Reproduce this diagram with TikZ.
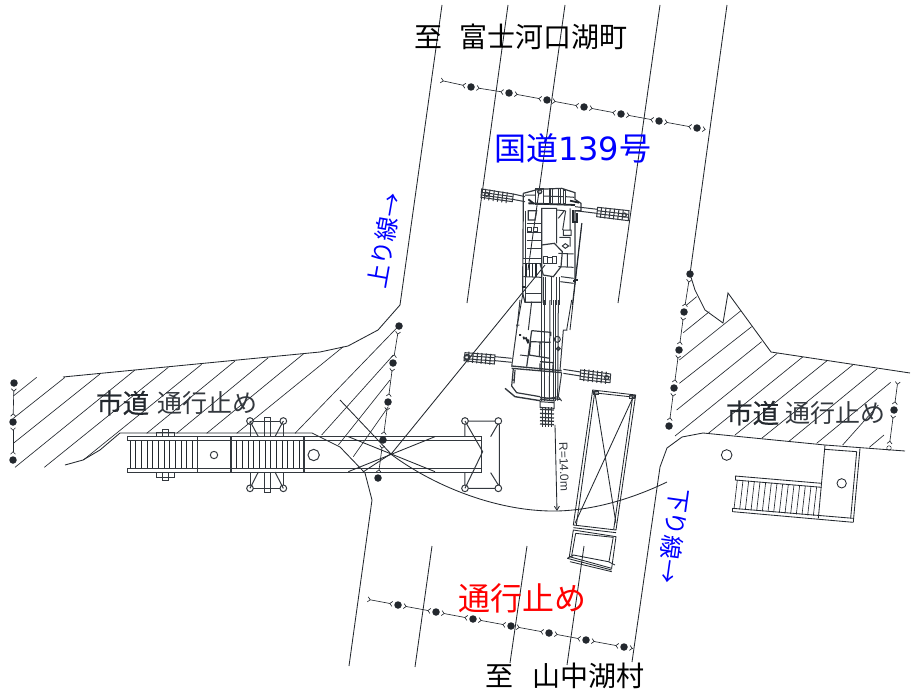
\documentclass[tikz,border=0pt]{standalone}
\usepackage{fontspec}
\setmainfont{Liberation Sans}
\newfontfamily\jp{Noto Sans CJK JP}
\newfontfamily\jpb[FakeBold=0.5]{Noto Sans CJK JP}
\newfontfamily\dv{DejaVu Sans}
\usetikzlibrary{arrows.meta}
\definecolor{ink}{HTML}{23282E}
\definecolor{mid}{HTML}{33383E}
\tikzset{
 road/.style={draw=ink,line width=.85pt},
 hatch/.style={draw=ink,line width=.65pt},
 craneline/.style={draw=mid,line width=1pt},
 heavy/.style={draw=ink,line width=1.8pt},
 post/.style={circle,fill=ink,inner sep=0pt,minimum size=7.5pt},
 openpost/.style={circle,draw=ink,line width=.5pt,inner sep=0pt,minimum size=4.5pt},
 fenceseg/.style={draw=ink,line width=.65pt,
   {Straight Barb[length=2.5pt,width=5pt,reversed]}-{Straight Barb[length=2.5pt,width=5pt,reversed]},
   shorten <=1.5pt,shorten >=1.5pt},
 fenceend/.style={draw=ink,line width=.65pt,
   {Straight Barb[length=2.5pt,width=5pt,reversed]}-,shorten <=1.5pt},
 zone/.style={font=\jpb\fontsize{26.5}{26}\selectfont,text=ink,inner sep=0pt},
 zonegray/.style={font=\jp\fontsize{25}{25}\selectfont,text=mid,inner sep=0pt},
 place/.style={font=\jp\fontsize{28}{28}\selectfont,text=black,inner sep=0pt},
 lineb/.style={font=\jp\fontsize{24}{24}\selectfont,text=blue,inner sep=0pt},
 zB/.style={shift={(120,400)},x=.33333pt,y=-.33333pt},
 zC/.style={shift={(540,380)},x=.33333pt,y=-.33333pt},
 zD/.style={shift={(660,260)},x=.33333pt,y=-.33333pt},
 zE/.style={shift={(0,310)},x=.33333pt,y=-.33333pt},
 zF/.style={shift={(475,180)},x=.33333pt,y=-.33333pt},
 zG/.style={shift={(460,300)},x=.33333pt,y=-.33333pt},
}
\begin{document}
\begin{tikzpicture}[x=1pt,y=-1pt]
\useasboundingbox (0,0) rectangle (911,693);
% roads
\draw[road] (442,5) -- (400,305) -- (378,330) -- (348,346) -- (320,352) -- (63,377);
\draw[road] (508,5) -- (467,303);
\draw[road] (565,5) -- (528,270);
\draw[road] (660,5) -- (618,303);
\draw[road] (727,5) -- (690,274) -- (695,290) -- (705,310) -- (723,323) -- (728,293) -- (771,352) -- (910,373);
\draw[road] (65,465) -- (83,460) -- (100,450) -- (120,433) -- (312,433) -- (340,447) -- (365,473) -- (372,500) -- (349,666);
\draw[road] (432,546) -- (415,667);
\draw[road] (527,546) -- (510,663);
\draw[road] (584,546) -- (567,665);
\draw[road] (632,662) -- (660,467) -- (667,448) -- (682,437) -- (703,433) -- (825,445) -- (905,451);
\draw[road] (523,293) -- (517,327);
\draw[road] (582,223) -- (570,330);
% left hatch
\begin{scope}[zE]
\foreach \xa/\ya/\xb/\yb in {110/202/40/258,195/202/40/325,300/192/40/400,405/180/45/472,505/172/133/472,605/163/250/450,705/153/440/370,805/143/530/370,910/132/620/370,1030/110/710/370,1197/47/885/370,1180/135/965/375,1170/210/1015/405,1165/290/1060/440}
  \draw[hatch] (\xa,\ya) -- (\xb,\yb);
\end{scope}
% right hatch
\begin{scope}[zD]
\foreach \xa/\ya/\xb/\yb in {110/110/80/135,148/155/70/218,243/152/58/300,275/200/58/370,305/245/50/450,352/280/45/528,428/291/145/520,500/303/225/525,578/315/305/535,652/326/388/543,692/367/470/550,672/525/628/562,655/435/548/555}
  \draw[hatch] (\xa,\ya) -- (\xb,\yb);
% stairs and yard
\draw[road] (495,555) -- (475,775);
\draw[road] (600,565) -- (580,785);
\draw[road] (590,575) -- (572,775);
\draw[road] (495,568) -- (590,575);
\draw[road] (225,648) -- (485,670) (225,660) -- (485,682);
\draw[road] (218,745) -- (580,775) (218,755) -- (580,787);
\draw[road] (225,648) -- (225,660) (218,745) -- (218,755) (580,775) -- (580,787);
\foreach \i in {0,...,14}
  \draw[hatch] ({232+\i*17},{660+\i*1.45}) -- ({222+\i*17},{747+\i*1.45});
\draw[road] (200,585) circle (16);
\draw[road] (545,670) circle (14);
\end{scope}
% mobile crane, travelling position
\begin{scope}[zB]
\draw[craneline] (22,110) -- (1085,110) (22,122) -- (1085,122) (22,205) -- (1085,205) (22,216) -- (1085,216);
\draw[craneline] (22,110) -- (22,122) (22,205) -- (22,216) (1085,110) -- (1085,216);
\foreach \x in {30,47,64,81,98,115,132,149,166,183,200,217,350,367,384,401,418,435,452,469,486,503,520,537}
  \draw[hatch] (\x,122) -- (\x,205);
\foreach \x in {232,333,552}
  \draw[craneline,line width=1.1pt] (\x,110) -- (\x,216);
\draw[craneline] (282,165) circle (11) (581,165) circle (17);
\draw[craneline] (110,97) rectangle (162,110) (128,88) rectangle (145,110) (110,218) rectangle (162,232) (128,218) rectangle (145,240);
\foreach \cx/\cy in {390/63,490/63,390/265,490/265,1035/63,1135/63,1035/265,1135/265}
  \draw[craneline] (\cx,\cy) circle (10);
\draw[craneline] (400,63) -- (480,63) (400,265) -- (480,265) (433,52) rectangle (450,110) (433,216) rectangle (450,277);
\draw[craneline] (390,63) -- (415,110) (490,63) -- (465,110) (390,265) -- (415,216) (490,265) -- (465,216);
\draw[craneline] (390,73) -- (390,110) (490,73) -- (490,110) (390,216) -- (390,255) (490,216) -- (490,255);
\draw[craneline] (1045,63) -- (1125,63) (1045,265) -- (1125,265) (1035,63) -- (1088,155) -- (1035,265);
\draw[craneline] (1135,70) -- (1112,110) (1135,255) -- (1112,218) (1035,73) -- (1035,110) (1035,216) -- (1035,255) (1138,73) -- (1138,255);
\draw[road] (685,110) -- (945,215) (685,215) -- (945,110);
\end{scope}
% swing radius, boom line
\draw[road] (340,400) -- (392,455) .. controls (437,488) and (500,512) .. (557,511) .. controls (600,510) and (640,495) .. (667,482);
\draw[road] (545,265) -- (392,453) -- (363,472);
% crane upper half
\begin{scope}[zF]
\draw[craneline] (20,27) -- (115,42) -- (112,65) -- (18,52) -- cycle;
\draw[craneline] (368,82) -- (462,92) -- (460,122) -- (365,110) -- cycle;
\foreach \t in {12,25,38,51,64,77}{
 \draw[craneline] ({20+\t},{25+\t*.16}) -- ({16+\t},{57+\t*.16});
 \draw[craneline] ({368+\t},{80+\t*.12}) -- ({364+\t},{112+\t*.12});
}
\draw[craneline] (20,37) -- (113,50) (19,45) -- (112,58) (367,92) -- (460,103) (366,101) -- (460,112);
\draw[craneline,line width=1.2pt] (35,43) circle (6) (448,105) circle (6);
\draw[craneline] (115,42) -- (150,50) (113,58) -- (150,65) (300,80) -- (368,88) (300,92) -- (366,100);
% shell
\draw[craneline,line width=1.2pt] (145,40) -- (190,28) -- (260,25) -- (300,38) -- (300,58) -- (318,70) -- (318,92) -- (300,92) -- (300,310);
\draw[craneline,line width=1.2pt] (145,40) -- (143,340) -- (150,367) -- (200,367) -- (200,85);
\draw[craneline] (151,92) -- (151,367) (150,340) -- (200,340);
\draw[heavy] (160,70) -- (300,75) (160,58) -- (178,72) (285,62) -- (312,68);
\draw[craneline,line width=1.3pt] (182,25) rectangle (205,72) (225,25) rectangle (232,72) (250,25) rectangle (257,72) (265,30) rectangle (272,72);
\draw[craneline,line width=1.3pt] (194,35) circle (6);
\draw[craneline] (150,45) -- (182,45) (205,48) -- (265,50) (272,50) -- (298,52);
\draw[craneline] (198,85) -- (245,85) -- (245,190) (245,90) -- (268,92) -- (250,115);
\draw[craneline,line width=1.2pt] (160,92) -- (185,92) -- (180,120) -- (160,120) -- cycle;
\draw[craneline] (155,130) -- (200,130) (155,158) -- (197,158) (155,180) -- (197,180) (155,205) -- (197,205);
\draw[craneline,line width=1.2pt] (158,142) rectangle (170,155) (175,142) rectangle (187,155);
\draw[craneline] (272,92) -- (263,150) (265,150) -- (288,150) -- (288,166) -- (265,166) -- cycle (285,85) -- (285,150) (253,172) -- (285,172) -- (285,200);
\draw[heavy] (295,90) -- (295,125) -- (305,125) -- (305,100);
\draw[craneline] (262,198) -- (271,191) -- (281,198) -- (271,205) -- cycle;
% turntable
\draw[craneline,line width=1.2pt] (200,195) -- (238,190) -- (262,215) -- (258,260) -- (235,290) -- (205,285) -- (195,250);
\draw[craneline,line width=1.5pt] (205,230) rectangle (217,250) (217,232) rectangle (232,250) (232,230) rectangle (245,250);
\draw[craneline,line width=1.2pt] (145,235) -- (200,235) (145,250) -- (200,250);
\foreach \x in {153,163,173,183} \draw[heavy,line width=1.2pt] (\x,250) -- (\x,290);
\draw[craneline] (145,290) -- (200,292);
\draw[heavy] (140,320) -- (150,320) (296,300) -- (308,300) (296,300) -- (296,306);
\draw[craneline] (250,220) -- (296,222) (250,260) -- (296,262) (258,290) -- (296,295) (256,305) -- (296,310) (277,222) -- (277,262);
\draw[road] (320,130) -- (292,375);
\foreach \x in {205,212,245,252} \draw[craneline] (\x,290) -- (\x,375);
\draw[craneline] (230,290) -- (230,375);
\end{scope}
% crane lower half
\begin{scope}[zG]
\draw[craneline] (15,158) -- (105,165) -- (103,192) -- (12,182) -- cycle;
\draw[craneline] (362,210) -- (452,222) -- (450,248) -- (360,238) -- cycle;
\foreach \t in {12,25,38,51,64,77}{
 \draw[craneline,line width=1.1pt] ({15+\t},{154+\t*.1}) -- ({12+\t},{186+\t*.1});
 \draw[craneline,line width=1.1pt] ({362+\t},{206+\t*.12}) -- ({359+\t},{242+\t*.12});
}
\draw[craneline] (15,167) -- (104,173) (14,176) -- (103,183) (361,219) -- (451,231) (361,229) -- (450,240);
\draw[craneline,line width=1.6pt] (21,172) circle (8);
\draw[craneline,line width=1.2pt] (440,233) circle (6);
\draw[craneline] (105,170) -- (155,175) (105,182) -- (155,187) (310,208) -- (362,216) (310,220) -- (362,228);
\draw[craneline] (180,0) -- (172,75) -- (155,200) (168,75) -- (178,75) (322,90) -- (310,90) -- (300,210) (215,5) -- (205,90);
\draw[road] (335,0) -- (320,90);
\draw[craneline,line width=1.2pt] (215,92) -- (272,97) -- (272,108) (215,92) -- (200,200) (213,125) -- (272,127) (207,165) -- (270,175) (212,125) -- (208,165) (240,125) -- (238,170);
\draw[heavy] (177,105) -- (183,105) (190,110) -- (193,118) (197,112) -- (205,130) (205,118) -- (205,130);
\draw[craneline] (180,165) -- (205,168);
\draw[craneline] (292,118) circle (9);
\draw[craneline,line width=1.5pt] (295,146) circle (5);
\draw[craneline,line width=1.3pt] (155,198) -- (305,212) (155,205) -- (305,218);
\draw[craneline,line width=1.3pt] (240,185) -- (280,188) -- (278,215) (240,190) -- (240,210);
\draw[craneline,line width=1.2pt] (160,205) -- (155,258) -- (170,278) -- (240,290) (165,210) -- (162,250) (155,240) -- (162,240);
\draw[craneline,line width=1.4pt] (135,265) -- (165,290) -- (240,302);
\draw[craneline] (305,218) -- (295,290) -- (240,300) (295,290) -- (305,303);
\draw[craneline,line width=1.3pt] (240,292) -- (300,298) (240,298) -- (285,303);
\foreach \xa/\xb in {243/243,253/253,270/268,280/280,286/286,295/293}
  \draw[craneline] (\xa,0) -- (\xb,302);
% boom tip
\draw[craneline] (240,305) -- (282,308) -- (282,325) -- (240,322) -- cycle;
\foreach \x in {247,256,265,274} \draw[craneline,line width=1.1pt] (\x,322) -- (\x,380);
\foreach \y in {328,340,352,362,372}
  \draw[craneline,line width=1.3pt] (240,\y) -- (282,{\y+2});
\end{scope}
% radius dimension
\draw[road,-{Straight Barb[length=4pt,width=5pt]}] (555,425) -- (557,511);
\node[rotate=-88,font=\fontsize{12}{12}\selectfont,text=mid,inner sep=0pt] (rlabel) at (564,467) {R=14.0m};
% truck
\begin{scope}[zC]
\draw[road] (158,30) -- (287,45) -- (228,450) -- (100,435) -- cycle;
\draw[road] (165,31) -- (109,436) (279,44) -- (221,449);
\draw[road] (158,38) -- (287,52);
\draw[road] (165,40) -- (228,430) (280,50) -- (105,430);
\draw[craneline] (160,33) rectangle (175,42) (268,46) rectangle (284,55);
\draw[road] (100,443) -- (228,458);
\draw[road] (100,450) -- (88,530) -- (215,565) -- (228,470) -- cycle;
\draw[road] (107,460) -- (95,527) (220,470) -- (207,545) (107,460) -- (220,472);
\draw[road] (82,535) -- (100,525) -- (205,545) -- (225,555) (82,535) -- (215,570) (90,545) -- (215,575) (100,525) -- (95,530);
\end{scope}
% fences
\foreach \n/\x/\y in {a1/471/87,a2/509/93,a3/547/100,a4/584/107,a5/621/114,a6/659/121,a7/697/128,
  b1/398/605,b2/436/612,b3/473/619,b4/511/626,b5/549/633,b6/586/640,b7/624/647,
  c1/14/383,c2/13/422,c3/13/460,
  d1/399/326,d2/393/363,d3/388/402,d4/383/440,d5/378/478,
  e1/690/274,e2/684/312,e3/679/350,e4/674/388,e5/669/426,
  g1/894/410}
  \node[post] (\n) at (\x,\y) {};
\node[openpost] (g2) at (889,448) {};
\coordinate (a0) at (439,80);
\coordinate (a8) at (705,129.5);
\coordinate (b0) at (366,599);
\coordinate (b8) at (633,648.5);
\coordinate (g0) at (898,380);
\foreach \p/\q in {a0/a1,a1/a2,a2/a3,a3/a4,a4/a5,a5/a6,a6/a7,b0/b1,b1/b2,b2/b3,b3/b4,b4/b5,b5/b6,b6/b7,c1/c2,c2/c3,d1/d2,d2/d3,d3/d4,d4/d5,e1/e2,e2/e3,e3/e4,e4/e5,g0/g1,g1/g2}
  \draw[fenceseg] (\p) -- (\q);
\draw[fenceend] (a7) -- (a8);
\draw[fenceend] (b7) -- (b8);
% labels
\node[place] (toTop1) at (428,37) {至};
\node[place,anchor=west] (toTop2) at (459,37) {富士河口湖町};
\node[place] (toBot1) at (499,676) {至};
\node[place,anchor=west] (toBot2) at (532,676) {山中湖村};
\node[font=\jp\fontsize{32}{32}\selectfont,text=blue,inner sep=0pt,anchor=west] (route) at (494,148) {国道{\dv 139}号};
\node[lineb,rotate=80] (up) at (385,241) {上り線→};
\node[lineb,rotate=-98] (down) at (674,536) {下り線→};
\node[zone,anchor=west] (c1a) at (96,403) {市道};
\node[zonegray,anchor=west] (c1b) at (157,403) {通行止め};
\node[zone,anchor=west] (c2a) at (726,413) {市道};
\node[zonegray,anchor=west] (c2b) at (785,413) {通行止め};
\node[font=\jp\fontsize{32}{32}\selectfont,text=red,inner sep=0pt] (closed) at (522,598) {通行止め};
\end{tikzpicture}
\end{document}
